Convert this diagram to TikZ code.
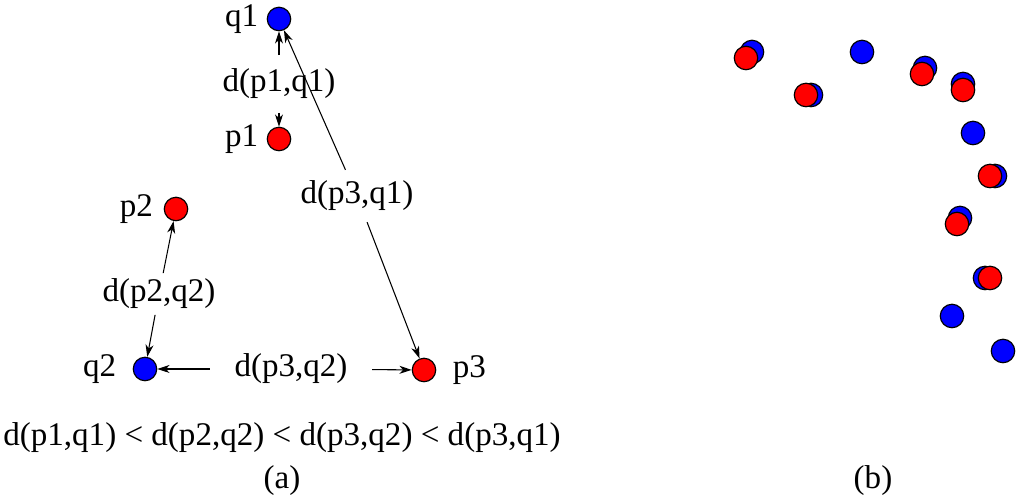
\documentclass[tikz,border=0pt]{standalone}
\usepackage{fontspec}
\setmainfont{Liberation Serif}
\usetikzlibrary{arrows.meta,positioning}
\definecolor{ptred}{HTML}{FF0000}
\definecolor{ptblue}{HTML}{0000FF}
\tikzset{
  dot/.style={circle,draw=black,line width=.45pt,minimum size=8.8pt,inner sep=0pt},
  dotq/.style={dot,fill=ptblue},
  dotp/.style={dot,fill=ptred},
  lbl/.style={font=\fontsize{12.4}{14}\selectfont,inner sep=0pt},
  dist/.style={lbl,inner sep=4pt},
  ar/.style={-{Stealth[length=4.6pt,width=3pt,inset=1.4pt]},line width=.4pt},
}

\begin{document}
\begin{tikzpicture}[x=.375pt,y=-.375pt]
  \useasboundingbox (0,0) rectangle (1024,501);
  % (a) points
  \node[dotq] (q1) at (279,19) {};
  \node[dotp] (p1) at (279,139) {};
  \node[dotp] (p2) at (176,209) {};
  \node[dotq] (q2) at (145,369) {};
  \node[dotp] (p3) at (424,370) {};
  \node[lbl,left=3pt of q1] (q1l) {q1};
  \node[lbl,left=3pt of p1] (p1l) {p1};
  \node[lbl,left=3.8pt of p2] (p2l) {p2};
  \node[lbl,left=6pt of q2] (q2l) {q2};
  \node[lbl,right=6pt of p3] (p3l) {p3};
  % distances
  \node[dist,inner sep=5pt] (d11) at (279,84) {d(p1,q1)};
  \draw[ar] (d11) -- (q1);
  \draw[ar] (d11) -- (p1);
  \node[dist,inner sep=2pt] (d22) at (159,294) {d(p2,q2)};
  \draw[ar] (d22) -- (p2);
  \draw[ar] (d22) -- (q2);
  \node[dist,inner xsep=9pt] (d32) at (291,369) {d(p3,q2)};
  \draw[ar] (d32) -- (q2);
  \draw[ar] (d32) -- (p3);
  \node[dist] (d31) at (357,196) {d(p3,q1)};
  \draw[ar] (d31) -- (q1);
  \draw[ar] (d31) -- (p3);
  \node[lbl] (ineq) at (282,438) {d(p1,q1) < d(p2,q2) < d(p3,q2) < d(p3,q1)};
  \node[lbl] (capa) at (282,481) {(a)};
  % (b) matched pairs, red over blue
  \foreach \bx/\by/\rx/\ry [count=\i] in {752/52/746/58, 811/95/806/95, 925/68/922/74,
      963/84/963/90, 995/176/990/176, 960/218/957/224, 985/278/990/278} {
    \node[dotq] (b\i) at (\bx,\by) {};
    \node[dotp] (r\i) at (\rx,\ry) {};
  }
  \foreach \bx/\by [count=\i] in {862/52, 973/133, 952/316, 1003/351}
    \node[dotq] (s\i) at (\bx,\by) {};
  \node[lbl] (capb) at (873,481) {(b)};
\end{tikzpicture}
\end{document}
